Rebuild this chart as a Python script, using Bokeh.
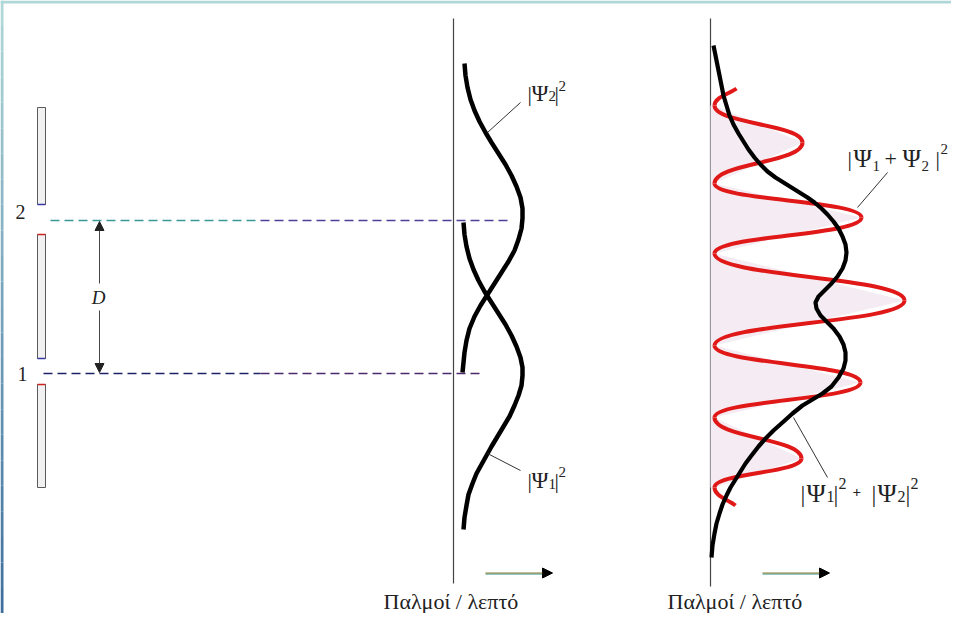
from bokeh.plotting import figure
from bokeh.models import Range1d, Arrow, NormalHead
from bokeh.embed import file_html
from bokeh.resources import INLINE
from bokeh.core.properties import value

# ---------------- data (picture pixel units) ----------------
SLIT_LABELS = ["2", "1"]
SLIT_Y = [220, 373]
BARRIER_Y0 = [107, 234, 384]
BARRIER_Y1 = [204, 358, 487]
D_LABEL = "D"

SCREEN_X = [453, 710]
SCREEN_END = [583, 586]

# |Psi_2|^2 on first screen
PSI2_X = [464, 465, 467, 470, 474, 479, 485, 491, 498, 505, 511, 516, 520, 522, 522,
          521, 518, 514, 508, 501, 494, 487, 480, 474, 469, 466, 464, 463, 462]
PSI2_Y = [63, 75, 87, 99, 110, 121, 132, 142, 153, 164, 175, 186, 197, 208, 218,
          228, 239, 250, 261, 272, 283, 294, 305, 316, 328, 340, 352, 362, 372]
# |Psi_1|^2 on first screen
PSI1_X = [463, 464, 466, 469, 473, 478, 484, 491, 498, 505, 511, 516, 520, 522, 522,
          521, 518, 514, 509, 503, 497, 491, 486, 481, 476, 472, 468, 466, 464, 463]
PSI1_Y = [222, 234, 246, 258, 269, 280, 291, 302, 313, 324, 335, 346, 357, 367, 375,
          385, 395, 405, 416, 426, 436, 446, 455, 464, 473, 483, 494, 505, 517, 529]
# |Psi_1|^2 + |Psi_2|^2 on second screen
SUM_X = [713, 715, 717, 719, 721, 723, 726, 729, 733, 738, 743, 748, 754, 760, 767, 775,
         783, 791, 799, 807, 814, 821, 827, 833, 838, 842, 845, 846, 845, 842, 837, 831,
         824, 818, 815, 816, 820, 826, 833, 839, 843, 845, 845, 843, 838, 831, 822, 812,
         802, 792, 782, 773, 765, 758, 751, 745, 740, 735, 730, 726, 722, 719, 716, 714,
         712, 711]
SUM_Y = [45, 55, 65, 75, 85, 95, 105, 115, 124, 133, 141, 149, 157, 164, 171, 177,
         182, 187, 192, 197, 202, 208, 214, 221, 228, 236, 244, 252, 260, 268, 276, 283,
         290, 296, 302, 308, 315, 321, 328, 336, 344, 352, 360, 368, 377, 386, 393, 399,
         405, 413, 422, 430, 438, 446, 455, 463, 471, 479, 487, 495, 504, 513, 523, 533,
         545, 557]
# |Psi_1 + Psi_2|^2 : ends and turning points (minima / maxima) of the fringes
RED_X = [736, 714, 802, 714, 861, 714, 904, 714, 860, 714, 801, 714, 735]
RED_Y = [88, 105, 142, 183, 217, 253, 300, 345, 382, 417, 458, 487, 505]

AXIS_LABEL = "Παλμοί / λεπτό"

SERIF = value("Liberation Serif")
INK = "#222222"
W, H = 951, 613
TDY = -7  # the svg text baseline sits this much lower than asked for

p = figure(width=W, height=H, x_range=Range1d(0, W), y_range=Range1d(H, 0),
           output_backend="svg", toolbar_location=None, x_axis_type=None, y_axis_type=None,
           min_border=0, outline_line_color=None,
           background_fill_color="white", border_fill_color="white")
p.grid.visible = False


def mix(c1, c2, t):
    a = [int(c1[i:i + 2], 16) for i in (1, 3, 5)]
    b = [int(c2[i:i + 2], 16) for i in (1, 3, 5)]
    return "#%02x%02x%02x" % tuple(round(a[k] + (b[k] - a[k]) * t) for k in range(3))


# frame bands (top and left edges)
p.quad(left=0, right=W, top=0, bottom=3, fill_color="#afd7d7", line_color=None)
NB = 24
tops = [H * i / NB for i in range(NB)]
bots = [H * (i + 1) / NB for i in range(NB)]
cols = [mix("#afd7d7", "#3f6f9e", i / (NB - 1)) for i in range(NB)]
p.quad(left=0, right=3, top=tops, bottom=bots, fill_color=cols, line_color=None)

# slit barriers
p.quad(left=37, right=45, top=BARRIER_Y0, bottom=BARRIER_Y1,
       fill_color="#f1f1f1", line_color="#5a5a5a", line_width=1)
p.segment(x0=[37, 37], x1=[45, 45], y0=[BARRIER_Y0[1], BARRIER_Y0[2]],
          y1=[BARRIER_Y0[1], BARRIER_Y0[2]], line_color="#cc2222", line_width=1.5)
p.segment(x0=[37, 37], x1=[45, 45], y0=[BARRIER_Y1[0], BARRIER_Y1[1]],
          y1=[BARRIER_Y1[0], BARRIER_Y1[1]], line_color="#3a3aa0", line_width=1.5)

# slit labels
p.text(x=[15, 17], y=[SLIT_Y[0] - 2 + TDY, SLIT_Y[1] + 7 + TDY], text=SLIT_LABELS,
       text_font=SERIF, text_font_size=value("20px"), text_color=INK,
       text_baseline="alphabetic")

# dashed lines from slits to screen
p.segment(x0=[50, 260], x1=[260, 508], y0=[SLIT_Y[0]] * 2, y1=[SLIT_Y[0]] * 2,
          line_color=["#3a9896", "#4b3f96"], line_width=1.3, line_dash="9 5")
p.segment(x0=[43, 260], x1=[260, 482], y0=[SLIT_Y[1]] * 2, y1=[SLIT_Y[1]] * 2,
          line_color=["#1f2266", "#4a2a6a"], line_width=1.3, line_dash="9 5")

# D arrow
for ys, ye in [(283, SLIT_Y[0] + 1), (310, SLIT_Y[1] - 1)]:
    p.add_layout(Arrow(end=NormalHead(size=9, fill_color=INK, line_color=INK),
                       x_start=99, y_start=ys, x_end=99, y_end=ye,
                       line_color="#444444", line_width=1))
p.text(x=[98], y=[297], text=[D_LABEL], text_font=SERIF, text_font_style="italic",
       text_font_size=value("19px"), text_color=INK, text_align="center",
       text_baseline="middle")

# detection screens
p.segment(x0=SCREEN_X, x1=SCREEN_X, y0=[18, 18], y1=SCREEN_END,
          line_color="#444444", line_width=1.2)

# light shading inside the fringes
mins = list(range(1, len(RED_X) - 1, 2))
px, py = [], []
for a, b in zip(mins[:-1], mins[1:]):
    px.append([SCREEN_X[1], RED_X[a], RED_X[a + 1], RED_X[b], SCREEN_X[1]])
    py.append([RED_Y[a], RED_Y[a], RED_Y[a + 1], RED_Y[b], RED_Y[b]])
p.patches(px, py, fill_color="#f4ecf2", line_color=None)

# first screen curves
p.line(PSI2_X, PSI2_Y, line_color="black", line_width=4.5, line_join="round")
p.line(PSI1_X, PSI1_Y, line_color="black", line_width=4.5, line_join="round")

# interference fringes (smooth segments between turning points)
n = len(RED_X)
x0, y0, x1, y1, cx0, cy0, cx1, cy1 = [], [], [], [], [], [], [], []
K = 0.5
for i in range(n - 1):
    xa, ya, xb, yb = RED_X[i], RED_Y[i], RED_X[i + 1], RED_Y[i + 1]
    dy = yb - ya
    x0.append(xa); y0.append(ya); x1.append(xb); y1.append(yb)
    if i == 0:
        cx0.append(xa + (xb - xa) / 3); cy0.append(ya + dy / 3)
    else:
        cx0.append(xa); cy0.append(ya + K * dy)
    if i == n - 2:
        cx1.append(xb - (xb - xa) / 3); cy1.append(yb - dy / 3)
    else:
        cx1.append(xb); cy1.append(yb - K * dy)
p.bezier(x0=x0, y0=y0, x1=x1, y1=y1, cx0=cx0, cy0=cy0, cx1=cx1, cy1=cy1,
         line_color="#e01818", line_width=4)

# sum of intensities
p.line(SUM_X, SUM_Y, line_color="black", line_width=4.2, line_join="round")

# leader lines
p.segment(x0=[520, 520, 887, 827], y0=[102, 470, 172, 477],
          x1=[487, 487, 857, 793], y1=[132, 453, 207, 417],
          line_color="#333333", line_width=1)


def put(x, y, t, size, style="normal"):
    p.text(x=[x], y=[y + TDY], text=[t], text_font=SERIF,
           text_font_size=value(f"{size}px"), text_font_style=style, text_color=INK,
           text_baseline="alphabetic", text_align="left")


# |Psi_2|^2
put(527, 100, "|", 22); put(531, 100, "Ψ", 23); put(548, 102, "2", 15)
put(554, 100, "|", 22); put(558, 92, "2", 15)
# |Psi_1|^2
put(527, 487, "|", 22); put(531, 487, "Ψ", 23); put(548, 490, "1", 15)
put(554, 487, "|", 22); put(558, 478, "2", 15)
# |Psi_1 + Psi_2|^2  (kept inside the right edge of the canvas)
put(847, 165, "|", 22); put(853, 165, "Ψ", 25); put(872, 172, "1", 15)
put(884, 165, "+", 22); put(902, 165, "Ψ", 25); put(921, 172, "2", 15)
put(935, 165, "|", 22); put(940, 155, "2", 15)
# |Psi_1|^2 + |Psi_2|^2
put(800, 500, "|", 24); put(806, 500, "Ψ", 26); put(826, 503, "1", 16)
put(833, 500, "|", 24); put(838, 490, "2", 16)
put(852, 498, "+", 15, "bold")
put(871, 500, "|", 24); put(877, 500, "Ψ", 26); put(897, 503, "2", 16)
put(905, 500, "|", 24); put(910, 490, "2", 16)

# axis direction arrows and labels
for xs in [485, 762]:
    p.segment(x0=[xs], x1=[xs + 58], y0=[573.5], y1=[573.5], line_color="#2f8f8f",
              line_width=1)
    p.add_layout(Arrow(end=NormalHead(size=10, fill_color="black", line_color="black"),
                       x_start=xs, y_start=572.5, x_end=xs + 67, y_end=572.5,
                       line_color="#8a7a2a", line_width=1))
for xs in [383, 667]:
    put(xs, 608, AXIS_LABEL, 22)

open("out.html", "w").write(file_html(p, INLINE))
